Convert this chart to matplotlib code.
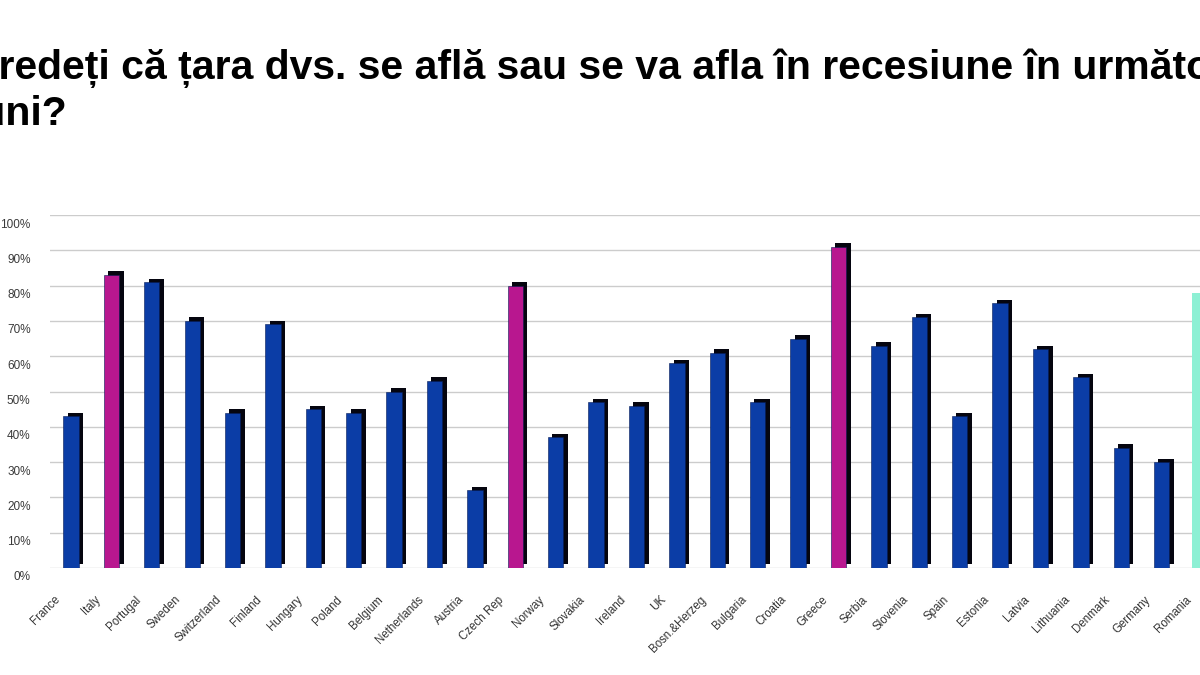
import matplotlib
matplotlib.use("Agg")
import matplotlib.pyplot as plt
from matplotlib.transforms import ScaledTranslation
import numpy as np

plt.rcParams['font.family'] = ['Liberation Sans', 'DejaVu Sans']

categories = ["France", "Italy", "Portugal", "Sweden", "Switzerland", "Finland",
              "Hungary", "Poland", "Belgium", "Netherlands", "Austria", "Czech Rep",
              "Norway", "Slovakia", "Ireland", "UK", "Bosn.&Herzeg", "Bulgaria",
              "Croatia", "Greece", "Serbia", "Slovenia", "Spain", "Estonia",
              "Latvia", "Lithuania", "Denmark", "Germany", "Romania"]
values = [43, 83, 81, 70, 44, 69, 45, 44, 50, 53, 22, 80, 37, 47, 46, 58, 61, 47,
          65, 91, 63, 71, 43, 75, 62, 54, 34, 30, 78]
highlight = ["Italy", "Czech Rep", "Greece"]
special = ["Romania"]
yticks = list(range(0, 101, 10))
ytick_labels = [f"{t}%" for t in yticks]
title_line1 = "Credeți că țara dvs. se află sau se va afla în recesiune în următoarele"
title_line2 = "luni?"

BLUE = "#0b3da6"
MAGENTA = "#b8178f"
AQUA = "#8df0d4"

W, H = 1200, 675
fig = plt.figure(figsize=(W / 100, H / 100), dpi=100)
fig.patch.set_facecolor("white")

ax_left, ax_right = 50 / W, 1.0
ax_bottom = (H - 568) / H
ax_top = (H - 215) / H
ax = fig.add_axes([ax_left, ax_bottom, ax_right - ax_left, ax_top - ax_bottom])
ax.set_facecolor("white")

x = np.arange(len(categories))
ax.set_xlim(-0.52, 27.95)
ax.set_ylim(0, 100)

for t in yticks:
    ax.axhline(t, color="#cccccc", lw=1.0, zorder=0)

front_w = 0.38
for i, (c, v) in enumerate(zip(categories, values)):
    if c in special:
        ax.bar(i, v, width=front_w + 0.1, color=AQUA, zorder=3)
        continue
    col = MAGENTA if c in highlight else BLUE
    # dark side / top face for the 3D look
    ax.bar(i + 0.11, v, bottom=1.0, width=front_w, color="#05050f", zorder=2)
    ax.bar(i, v, width=front_w, color=col, edgecolor="#061a55", lw=0.4, zorder=3)

ax.set_yticks(yticks)
ax.set_yticklabels(ytick_labels, fontsize=8.5, color="#3a3a3a")
ax.tick_params(axis="y", length=0, pad=14)
off = ScaledTranslation(0, -8 / 100, fig.dpi_scale_trans)
for lab in ax.get_yticklabels():
    lab.set_transform(lab.get_transform() + off)

ax.set_xticks([])
for i, c in enumerate(categories):
    ax.annotate(c, xy=(i, 0), xycoords=("data", "axes fraction"),
                xytext=(-13, -30), textcoords="offset pixels",
                rotation=45, ha="right", va="center", rotation_mode="anchor",
                fontsize=8.3, color="#333333")

for s in ax.spines.values():
    s.set_visible(False)

fig.text(-31 / W, 1 - 79 / H, title_line1, fontsize=29.5, fontweight="bold",
         color="black", ha="left", va="baseline")
fig.text(-31 / W, 1 - 125 / H, title_line2, fontsize=29.5, fontweight="bold",
         color="black", ha="left", va="baseline")

fig.savefig("out.png", dpi=100)
